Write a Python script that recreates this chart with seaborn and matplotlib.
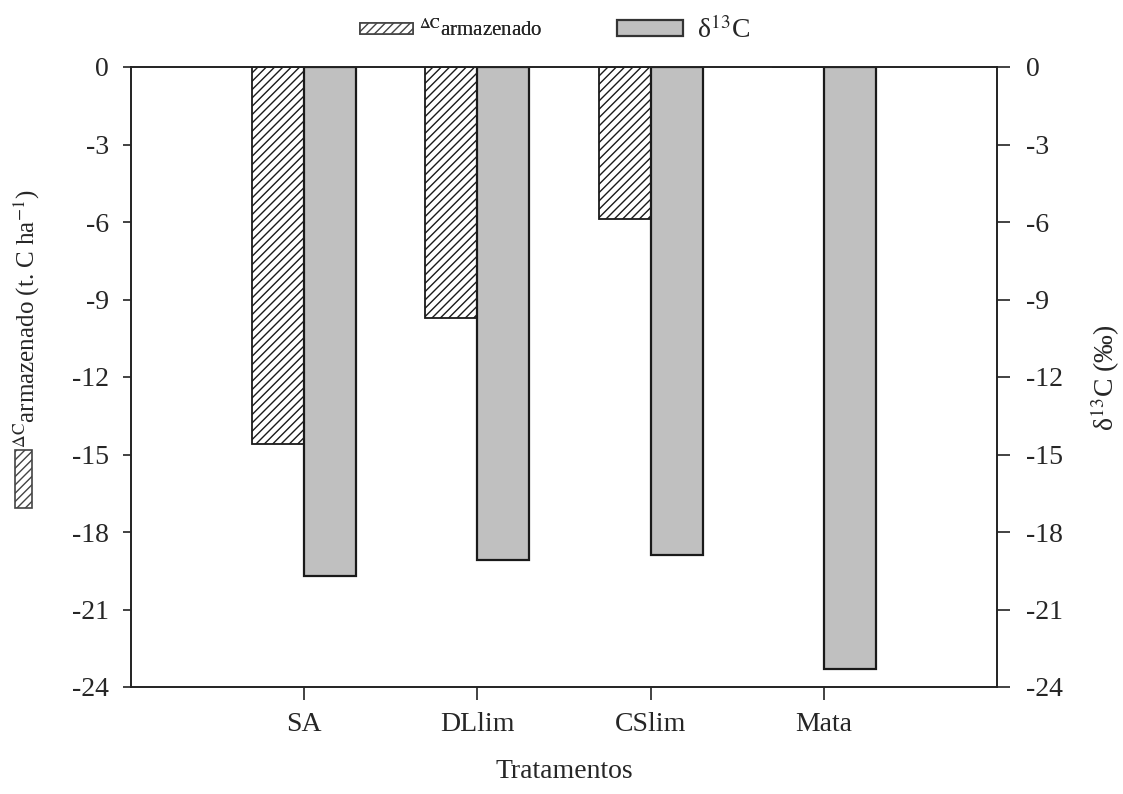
import matplotlib.pyplot as plt
import matplotlib.patches as mpatches
import seaborn as sns
import pandas as pd

tratamentos = ["SA", "DLlim", "CSlim", "Mata"]
delta_c = [-14.6, -9.7, -5.9, 0.0]
delta_13c = [-19.7, -19.1, -18.9, -23.3]
yticks = [0, -3, -6, -9, -12, -15, -18, -21, -24]

sns.set_style("ticks")
plt.rcParams["font.family"] = ["Liberation Serif", "DejaVu Serif"]
plt.rcParams["mathtext.fontset"] = "stix"
plt.rcParams["hatch.linewidth"] = 1.0

W, H = 1123, 794
FS = 20

df = pd.DataFrame({
    "trat": tratamentos * 2,
    "valor": delta_c + delta_13c,
    "serie": ["dc"] * 4 + ["d13"] * 4,
})

fig = plt.figure(figsize=(W / 100, H / 100), dpi=100)
ax = fig.add_axes([131 / W, 1 - 687 / H, 866 / W, 620 / H])
sns.barplot(data=df, x="trat", y="valor", hue="serie", palette=["white", "#c0c0c0"],
            edgecolor="#1a1a1a", linewidth=1.3, width=0.6, saturation=1, ax=ax, legend=False)
for p in ax.patches[:4]:
    p.set_hatch("////")
for p in ax.patches[4:8]:
    p.set_linewidth(1.6)

ax.set_xlim(-1.0, 4.0)
ax.set_ylim(-24, 0)
ax.set_yticks(yticks)
ax.set_yticklabels([str(v) for v in yticks], fontsize=FS)
ax.tick_params(axis="y", length=6, width=1.2, pad=10, color="#222222")
ax.tick_params(axis="x", length=9, width=1.2, labelsize=FS, pad=9, color="#222222")
ax.set_xlabel("Tratamentos", fontsize=FS, labelpad=16)
ax.set_ylabel("")
for s in ax.spines.values():
    s.set_linewidth(1.2)
    s.set_color("#222222")

ax2 = ax.twinx()
ax2.set_ylim(-24, 0)
ax2.set_yticks(yticks)
ax2.set_yticklabels([str(v) for v in yticks], fontsize=FS)
ax2.tick_params(axis="y", length=9, width=1.2, pad=12, color="#222222")
for s in ax2.spines.values():
    s.set_linewidth(1.2)
    s.set_color("#222222")
fig.text(1105 / W, 1 - 378 / H, "δ$^{13}$C (‰)", rotation=90, fontsize=FS,
         ha="center", va="center")

# left axis label with hatched key
fig.patches.append(mpatches.Rectangle((15 / W, 1 - 508 / H), 17 / W, 58 / H,
                                      transform=fig.transFigure, facecolor="white",
                                      edgecolor="#444444", hatch="////", linewidth=1.2))
fig.text(27 / W, 1 - 448 / H, r"$^{\mathrm{\Delta C}}$armazenado (t. C ha$^{-1}$)",
         rotation=90, fontsize=18, ha="center", va="bottom")

# legend (two pieces, different sizes as in the original)
h1 = mpatches.Patch(facecolor="white", edgecolor="#444444", hatch="////", linewidth=1.2)
h2 = mpatches.Patch(facecolor="#c0c0c0", edgecolor="#333333", linewidth=1.6)
leg1 = fig.legend([h1], [r"$^{\mathrm{\Delta C}}$armazenado"], loc="center left",
                  bbox_to_anchor=(360 / W, 1 - 30 / H), frameon=False, fontsize=15,
                  handlelength=2.55, handleheight=0.48, handletextpad=0.3,
                  borderpad=0, borderaxespad=0)
leg2 = fig.legend([h2], ["δ$^{13}$C"], loc="center left",
                  bbox_to_anchor=(617 / W, 1 - 30 / H), frameon=False, fontsize=FS,
                  handlelength=2.37, handleheight=0.5, handletextpad=0.5,
                  borderpad=0, borderaxespad=0)
fig.add_artist(leg1)

fig.savefig("out.png", dpi=100)
